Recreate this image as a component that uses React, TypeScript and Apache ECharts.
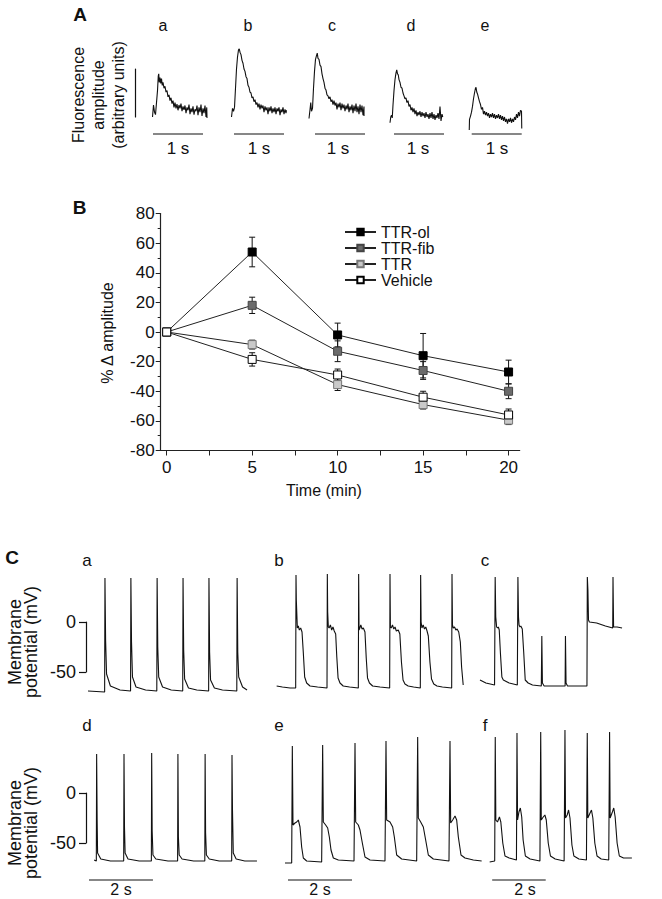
import React, { useEffect, useRef } from 'react';
import * as echarts from 'echarts';

const FONT = '"Liberation Sans", Arial, Helvetica, sans-serif';
const INK = '#111';

// ---------- Panel A : fluorescence transients (time s, amplitude a.u.) ----------
const traceLettersA = ['a', 'b', 'c', 'd', 'e'];
const fluoA: number[][] = [[0.01,0.0],[0.03,0.25],[0.05,0.1],[0.07,0.05],[0.09,0.3],[0.11,0.55],[0.125,0.85],[0.135,0.9],[0.145,0.72],[0.16,0.82],[0.175,0.7],[0.19,0.8],[0.205,0.66],[0.22,0.72],[0.24,0.6],[0.26,0.64],[0.28,0.52],[0.3,0.55],[0.32,0.42],[0.34,0.46],[0.36,0.34],[0.38,0.4],[0.4,0.28],[0.42,0.34],[0.44,0.2],[0.46,0.3],[0.48,0.18],[0.5,0.27],[0.52,0.14],[0.54,0.25],[0.56,0.18],[0.58,0.28],[0.6,0.12],[0.62,0.22],[0.64,0.15],[0.66,0.24],[0.68,0.08],[0.7,0.2],[0.72,0.14],[0.74,0.26],[0.76,0.06],[0.78,0.18],[0.8,0.1],[0.82,0.22],[0.84,0.05],[0.86,0.16],[0.88,0.12],[0.9,0.24],[0.92,0.04],[0.94,0.2],[0.96,0.1],[0.98,0.26],[1.0,0.02],[1.02,0.18],[1.04,0.08],[1.06,0.24],[1.08,0.0],[1.095,0.2],[1.1,-0.02]];
const fluoB: number[][] = [[0.01,0.0],[0.03,0.18],[0.05,0.12],[0.07,0.2],[0.09,0.6],[0.11,1.0],[0.13,1.25],[0.15,1.4],[0.165,1.42],[0.18,1.35],[0.2,1.3],[0.22,1.18],[0.24,1.12],[0.26,1.0],[0.28,0.95],[0.3,0.84],[0.32,0.8],[0.34,0.66],[0.36,0.62],[0.38,0.52],[0.4,0.5],[0.42,0.4],[0.44,0.42],[0.46,0.32],[0.48,0.36],[0.5,0.26],[0.52,0.3],[0.54,0.2],[0.56,0.28],[0.58,0.16],[0.6,0.26],[0.62,0.18],[0.64,0.24],[0.66,0.1],[0.68,0.22],[0.7,0.14],[0.72,0.2],[0.74,0.06],[0.76,0.2],[0.78,0.12],[0.8,0.22],[0.82,0.08],[0.84,0.18],[0.86,0.1],[0.88,0.2],[0.9,0.06],[0.92,0.18],[0.94,0.12],[0.96,0.2],[0.98,0.04],[1.0,0.16],[1.02,0.1],[1.04,0.2],[1.06,0.06],[1.08,0.16],[1.1,0.08],[1.11,0.14]];
const fluoC: number[][] = [[0.02,-0.03],[0.04,0.15],[0.055,0.3],[0.07,0.12],[0.09,0.18],[0.11,0.6],[0.13,0.95],[0.15,1.2],[0.17,1.28],[0.185,1.33],[0.2,1.22],[0.22,1.2],[0.24,1.08],[0.26,1.05],[0.28,0.9],[0.3,0.8],[0.32,0.72],[0.34,0.6],[0.36,0.56],[0.38,0.46],[0.4,0.44],[0.42,0.38],[0.44,0.42],[0.46,0.32],[0.48,0.36],[0.5,0.26],[0.52,0.34],[0.54,0.24],[0.56,0.3],[0.58,0.16],[0.6,0.28],[0.62,0.2],[0.64,0.3],[0.66,0.14],[0.68,0.28],[0.7,0.18],[0.72,0.26],[0.74,0.12],[0.76,0.24],[0.78,0.16],[0.8,0.28],[0.82,0.1],[0.84,0.22],[0.86,0.14],[0.88,0.26],[0.9,0.08],[0.92,0.24],[0.94,0.12],[0.96,0.28],[0.98,0.1],[1.0,0.22],[1.02,0.06],[1.04,0.26],[1.06,0.1],[1.08,0.24],[1.1,0.04],[1.12,0.22],[1.12,0.02]];
const fluoD: number[][] = [[0.02,-0.12],[0.035,0.0],[0.05,0.04],[0.065,-0.02],[0.08,0.25],[0.1,0.55],[0.12,0.78],[0.14,0.92],[0.155,0.98],[0.17,0.9],[0.185,0.88],[0.2,0.78],[0.22,0.72],[0.24,0.62],[0.26,0.6],[0.28,0.5],[0.3,0.44],[0.32,0.38],[0.34,0.4],[0.36,0.3],[0.38,0.34],[0.4,0.22],[0.42,0.26],[0.44,0.14],[0.46,0.2],[0.48,0.1],[0.5,0.18],[0.52,0.06],[0.54,0.14],[0.56,0.02],[0.58,0.1],[0.6,0.04],[0.62,0.12],[0.64,0.0],[0.66,0.1],[0.68,0.02],[0.7,0.08],[0.72,-0.02],[0.74,0.1],[0.76,0.0],[0.78,0.06],[0.8,-0.04],[0.82,0.08],[0.84,-0.02],[0.86,0.1],[0.88,-0.04],[0.9,0.06],[0.92,-0.06],[0.94,0.04],[0.96,-0.02],[0.98,0.08],[1.0,-0.04],[1.02,0.22],[1.04,-0.08],[1.06,0.06],[1.075,0.0]];
const fluoE: number[][] = [[0.025,-0.27],[0.03,-0.05],[0.05,0.02],[0.07,0.1],[0.09,0.22],[0.11,0.38],[0.13,0.5],[0.15,0.6],[0.16,0.62],[0.175,0.52],[0.19,0.48],[0.21,0.4],[0.23,0.32],[0.25,0.26],[0.27,0.16],[0.29,0.2],[0.31,0.06],[0.33,0.12],[0.35,0.04],[0.37,0.1],[0.39,0.02],[0.41,0.08],[0.43,-0.02],[0.45,0.06],[0.47,0.0],[0.49,0.08],[0.51,-0.02],[0.53,0.06],[0.55,-0.04],[0.57,0.04],[0.59,-0.02],[0.61,0.06],[0.63,-0.04],[0.65,0.04],[0.67,-0.06],[0.69,0.02],[0.71,-0.08],[0.73,0.0],[0.75,-0.1],[0.77,-0.04],[0.79,-0.14],[0.81,-0.04],[0.83,-0.1],[0.85,-0.02],[0.87,-0.12],[0.89,-0.04],[0.91,-0.1],[0.93,0.0],[0.95,-0.06],[0.97,0.06],[0.99,-0.02],[1.01,0.1],[1.03,0.02],[1.05,0.14],[1.07,0.12],[1.075,-0.24]];
const fluoTraces = [fluoA, fluoB, fluoC, fluoD, fluoE];
const oneSecondBarA = [[0.02, 1.02], [0.06, 1.06], [0.14, 1.14], [0.1, 1.1], [0.074, 1.074]];

// ---------- Panel B : % change of amplitude ----------
const timesMin = [0, 5, 10, 15, 20];
const ttrOl = [0, 54, -2, -16, -27];
const ttrOlErr = [0, 10, 8, 15, 8];
const ttrFib = [0, 18, -13, -26, -40];
const ttrFibErr = [0, 5.5, 7, 6, 5];
const ttrNat = [0, -8.5, -35.5, -49, -59.5];
const ttrNatErr = [0, 3, 4, 3, 3];
const vehicle = [0, -18.5, -29, -44, -56];
const vehicleErr = [0, 4.5, 4, 4, 4];
const seriesNamesB = ['TTR-ol', 'TTR-fib', 'TTR', 'Vehicle'];
const xLabelsB = [0, 5, 10, 15, 20];
const xTicksB = [0, 2.5, 5, 7.5, 10, 12.5, 15, 17.5, 20];

// ---------- Panel C : membrane potential (time s, mV) ----------
const lettersC = ['a', 'b', 'c', 'd', 'e', 'f'];
const apA: number[][] = [[0,-69],[0.52,-70],[0.53,44],[0.55,-18],[0.58,-52],[0.7,-64],[1.0,-68],[1.33,-69],[1.34,44],[1.36,-20],[1.39,-55],[1.5,-65],[1.8,-68],[2.15,-69],[2.16,44],[2.18,-25],[2.21,-55],[2.33,-65],[2.6,-68],[2.96,-69],[2.97,44],[2.99,-28],[3.02,-57],[3.14,-66],[3.4,-68],[3.77,-69],[3.78,44],[3.8,-30],[3.83,-58],[3.95,-66],[4.2,-68],[4.65,-69],[4.66,44],[4.68,-30],[4.71,-55],[4.83,-65],[4.97,-68]];
const apB: number[][] = [[0.02,-64],[0.2,-65],[0.44,-66],[0.615,-66],[0.625,47],[0.635,22],[0.667,-6],[0.698,-4],[0.729,-8],[0.771,-6],[0.813,-10],[0.854,-31],[0.896,-55],[0.958,-61],[1.063,-64],[1.3,-65],[1.594,-66],[1.604,48],[1.615,10],[1.635,-5],[1.66,-6],[1.7,-3],[1.74,-8],[1.78,-5],[1.82,-9],[1.865,-12],[1.9,-35],[1.94,-56],[2.0,-61],[2.1,-64],[2.3,-65],[2.573,-66],[2.583,48],[2.595,-8],[2.62,-6],[2.65,-3],[2.69,-7],[2.73,-6],[2.78,-10],[2.82,-36],[2.86,-56],[2.92,-61],[3.02,-64],[3.25,-65],[3.552,-66],[3.5625,48],[3.575,-5],[3.6,-6],[3.64,-3],[3.68,-7],[3.72,-5],[3.76,-9],[3.82,-8],[3.87,-12],[3.92,-40],[3.97,-58],[4.03,-62],[4.13,-64],[4.3,-65],[4.51,-66],[4.52,47],[4.535,0],[4.56,-6],[4.6,-3],[4.64,-7],[4.68,-5],[4.72,-9],[4.76,-14],[4.81,-40],[4.86,-57],[4.93,-62],[5.03,-64],[5.2,-65],[5.49,-66],[5.5,48],[5.515,-3],[5.54,-6],[5.58,-5],[5.62,-8],[5.66,-7],[5.71,-10],[5.76,-20],[5.8,-45],[5.85,-63]];
const apC: number[][] = [[0,-58],[0.21,-61],[0.52,-63],[0.535,-63],[0.542,45],[0.5625,5],[0.594,-5],[0.625,-6],[0.656,-5],[0.6875,-8],[0.729,-31],[0.781,-55],[0.833,-58],[1.042,-61],[1.333,-63],[1.354,45],[1.375,5],[1.396,-3],[1.427,-5],[1.458,-4],[1.51,-7],[1.5625,-31],[1.615,-58],[1.719,-61],[1.875,-63],[2.19,-64],[2.208,-14],[2.229,-61],[2.29,-64],[2.708,-64],[3.04,-64],[3.052,-14],[3.073,-61],[3.125,-64],[3.82,-64],[3.833,45],[3.854,32],[3.875,2],[3.906,0],[4.167,-1],[4.479,-4],[4.74,-6],[4.75,45],[4.771,-5],[4.896,-5],[5.073,-6]];
const apD: number[][] = [[0.19,-67],[0.26,-68],[0.27,39],[0.285,-26],[0.3,-60],[0.4,-66],[0.7,-68],[1.115,-68],[1.125,39],[1.14,-34],[1.16,-60],[1.25,-66],[1.6,-68],[1.98,-68],[1.99,40],[2.005,-38],[2.03,-62],[2.12,-66],[2.5,-68],[2.8,-68],[2.81,39],[2.825,-44],[2.85,-62],[2.94,-66],[3.3,-68],[3.65,-68],[3.66,39],[3.675,-40],[3.7,-62],[3.79,-66],[4.1,-68],[4.49,-68],[4.5,38],[4.515,-17],[4.54,-60],[4.63,-66],[4.9,-68],[5.28,-68]];
const apE: number[][] = [[0.031,-70],[0.24,-70],[0.26,47],[0.281,-32],[0.344,-30],[0.396,-29],[0.448,-27],[0.5,-34],[0.552,-54],[0.604,-65],[0.708,-68],[1.177,-69],[1.208,48],[1.229,-29],[1.302,-32],[1.365,-35],[1.417,-44],[1.469,-57],[1.542,-65],[1.698,-67],[2.188,-68],[2.219,50],[2.24,-29],[2.323,-32],[2.375,-37],[2.448,-50],[2.531,-64],[2.688,-67],[3.156,-68],[3.1875,52],[3.208,-27],[3.3125,-29],[3.396,-34],[3.448,-44],[3.521,-62],[3.677,-66],[4.146,-68],[4.177,56],[4.198,-25],[4.271,-29],[4.354,-34],[4.427,-47],[4.51,-62],[4.667,-66],[5.156,-68],[5.1875,52],[5.208,-30],[5.271,-27],[5.344,-23],[5.396,-27],[5.448,-44],[5.531,-62],[5.656,-65],[5.917,-67],[6.177,-68]];
const apF: number[][] = [[0.0625,-69],[0.25,-68],[0.271,56],[0.292,-27],[0.354,-29],[0.427,-24],[0.479,-29],[0.552,-50],[0.635,-63],[0.792,-65],[1.063,-67],[1.083,60],[1.104,-27],[1.156,-19],[1.208,-15],[1.26,-24],[1.3125,-47],[1.396,-63],[1.573,-66],[1.94,-68],[1.969,61],[1.99,-27],[2.063,-24],[2.125,-22],[2.177,-27],[2.25,-50],[2.333,-63],[2.51,-66],[2.844,-68],[2.875,63],[2.896,-25],[2.958,-22],[3.01,-17],[3.0625,-25],[3.135,-52],[3.208,-63],[3.396,-66],[3.677,-67],[3.708,60],[3.729,-25],[3.8125,-20],[3.865,-17],[3.917,-25],[3.99,-50],[4.073,-63],[4.229,-66],[4.51,-67],[4.542,61],[4.5625,-25],[4.646,-19],[4.698,-15],[4.75,-24],[4.823,-50],[4.906,-63],[5.0625,-65],[5.375,-65]];
const apTraces = [apA, apB, apC, apD, apE, apF];
const twoSecondBarC = [[0.03, 2.03], [0.125, 2.125], [0.156, 2.156]];
const mVTicks = [0, -50];

// ---------- layout (pixels) ----------
const leftsA = [152, 231, 308, 389, 468];
const leftsC = [88, 276, 480, 88, 284, 488];
const topsC = [552, 552, 552, 723, 723, 723];
const letterXA = [163, 248, 332, 411, 485];
const secLabelXA = [178, 259, 338, 418, 497];
const letterXC = [87, 279, 485, 87, 279, 485];
const letterYC = [560, 560, 560, 725, 725, 725];
const secLabelXC = [121, 320, 525];

const App: React.FC = () => {
  const ref = useRef<HTMLDivElement>(null);

  useEffect(() => {
    if (!ref.current) return;
    const chart = echarts.init(ref.current, null, { renderer: 'svg' });

    const grid: any[] = [];
    const xAxis: any[] = [];
    const yAxis: any[] = [];
    const series: any[] = [];
    const graphic: any[] = [];

    const hiddenAxes = (xmin: number, xmax: number, ymin: number, ymax: number) => {
      xAxis.push({ type: 'value', gridIndex: grid.length - 1, min: xmin, max: xmax, show: false });
      yAxis.push({ type: 'value', gridIndex: grid.length - 1, min: ymin, max: ymax, show: false });
      return grid.length - 1;
    };
    const traceLine = (idx: number, data: number[][], width = 1.1) => {
      series.push({
        type: 'line', xAxisIndex: idx, yAxisIndex: idx, data, showSymbol: false, symbol: 'none',
        silent: true, clip: false, lineStyle: { color: INK, width }, z: 3,
      });
    };
    const txt = (x: number, y: number, text: string, size: number, extra: any = {}) => {
      graphic.push({
        type: 'text', x, y, rotation: extra.rotation || 0, silent: true,
        style: {
          text, fontSize: size, fontFamily: FONT, fontWeight: extra.bold ? 'bold' : 'normal',
          fill: INK, align: 'center', verticalAlign: 'middle', textAlign: 'center', textVerticalAlign: 'middle',
          lineHeight: extra.lineHeight,
        },
      });
    };

    // ---- Panel A ----
    fluoTraces.forEach((tr, i) => {
      grid.push({ left: leftsA[i], top: 40.2, width: 60, height: 96 });
      const g = hiddenAxes(0, 1.2, -0.4, 1.6);
      traceLine(g, tr, 1.1);
      traceLine(g, [[oneSecondBarA[i][0], -0.354], [oneSecondBarA[i][1], -0.354]], 1.2);
      txt(letterXA[i], 25, traceLettersA[i], 16);
      txt(secLabelXA[i], 148, '1 s', 17);
    });
    // vertical amplitude scale bar (1 a.u.)
    grid.push({ left: 135, top: 69, width: 1, height: 48 });
    xAxis.push({ type: 'value', gridIndex: grid.length - 1, show: false });
    yAxis.push({
      type: 'value', gridIndex: grid.length - 1, min: 0, max: 1, position: 'left',
      axisLine: { show: true, lineStyle: { color: INK, width: 1.2 } },
      axisTick: { show: false }, axisLabel: { show: false }, splitLine: { show: false },
    });
    txt(80, 14, 'A', 19, { bold: true });
    txt(98, 95, 'Fluorescence\namplitude\n(arbitrary units)', 16, { rotation: Math.PI / 2, lineHeight: 20 });

    // ---- Panel B ----
    grid.push({ left: 160.7, top: 213.5, width: 359, height: 237 });
    const gB = grid.length - 1;
    xAxis.push({
      type: 'value', gridIndex: gB, min: -0.35, max: 20.65,
      axisLine: { show: true, onZero: false, lineStyle: { color: '#222', width: 1.2 } },
      axisTick: { show: true, customValues: xTicksB, length: 5, lineStyle: { color: '#222' } },
      axisLabel: { customValues: xLabelsB, fontSize: 17, fontFamily: FONT, color: INK, margin: 8 },
      splitLine: { show: false },
    });
    yAxis.push({
      type: 'value', gridIndex: gB, min: -80, max: 80, interval: 20,
      axisLine: { show: true, onZero: false, lineStyle: { color: '#222', width: 1.2 } },
      axisTick: { show: true, length: 5, lineStyle: { color: '#222' } },
      minorTick: { show: true, splitNumber: 2, length: 3, lineStyle: { color: '#222' } },
      axisLabel: { fontSize: 17, fontFamily: FONT, color: INK, margin: 6 },
      splitLine: { show: false },
    });
    const bSets = [
      { name: seriesNamesB[0], v: ttrOl, e: ttrOlErr, fill: '#000000', border: '#000000' },
      { name: seriesNamesB[1], v: ttrFib, e: ttrFibErr, fill: '#6b6b6b', border: '#444444' },
      { name: seriesNamesB[2], v: ttrNat, e: ttrNatErr, fill: '#c9c9c9', border: '#777777' },
      { name: seriesNamesB[3], v: vehicle, e: vehicleErr, fill: '#ffffff', border: '#000000' },
    ];
    bSets.forEach((s) => {
      series.push({
        type: 'custom', name: s.name + ' error', xAxisIndex: gB, yAxisIndex: gB, silent: true, z: 2,
        data: timesMin.map((t, i) => [t, s.v[i], s.e[i]]),
        renderItem: (_p: any, api: any) => {
          const x = api.value(0), m = api.value(1), e = api.value(2);
          if (!e) return { type: 'group', children: [] };
          const top = api.coord([x, m + e]);
          const bot = api.coord([x, m - e]);
          const st = { stroke: '#111', lineWidth: 1 };
          return {
            type: 'group', children: [
              { type: 'line', shape: { x1: top[0], y1: top[1], x2: bot[0], y2: bot[1] }, style: st },
              { type: 'line', shape: { x1: top[0] - 3, y1: top[1], x2: top[0] + 3, y2: top[1] }, style: st },
              { type: 'line', shape: { x1: bot[0] - 3, y1: bot[1], x2: bot[0] + 3, y2: bot[1] }, style: st },
            ],
          };
        },
      });
    });
    bSets.forEach((s) => {
      series.push({
        type: 'line', name: s.name, xAxisIndex: gB, yAxisIndex: gB, z: 3,
        data: timesMin.map((t, i) => [t, s.v[i]]),
        symbol: 'rect', symbolSize: 8, showSymbol: true,
        lineStyle: { color: '#222', width: 1 },
        itemStyle: { color: s.fill, borderColor: s.border, borderWidth: 1 },
      });
    });
    txt(79.5, 207.5, 'B', 19, { bold: true });
    txt(107, 333, '% Δ amplitude', 16, { rotation: Math.PI / 2 });
    txt(324, 490, 'Time (min)', 16);

    // ---- Panel C ----
    apTraces.forEach((tr, i) => {
      grid.push({ left: leftsC[i], top: topsC[i], width: 208, height: 170 });
      const g = hiddenAxes(0, 6.5, -100, 70);
      traceLine(g, tr, 1.1);
      if (i >= 3) {
        const b = twoSecondBarC[i - 3];
        traceLine(g, [[b[0], -87], [b[1], -87]], 1.2);
        txt(secLabelXC[i - 3], 889, '2 s', 16);
      }
      txt(letterXC[i], letterYC[i], lettersC[i], 17);
    });
    // mV scale bars with 0 / -50 labels
    [622, 793].forEach((zeroY) => {
      grid.push({ left: 86, top: zeroY, width: 1, height: 50 });
      xAxis.push({ type: 'value', gridIndex: grid.length - 1, show: false });
      yAxis.push({
        type: 'value', gridIndex: grid.length - 1, min: -50, max: 0, interval: 50, position: 'left',
        axisLine: { show: true, lineStyle: { color: INK, width: 1.2 } },
        axisTick: { show: true, customValues: mVTicks, length: 7, lineStyle: { color: INK, width: 1.2 } },
        axisLabel: { customValues: mVTicks, fontSize: 18, fontFamily: FONT, color: INK, margin: 10 },
        splitLine: { show: false },
      });
    });
    txt(12, 557, 'C', 19, { bold: true });
    txt(23, 642, 'Membrane\npotential (mV)', 18, { rotation: Math.PI / 2, lineHeight: 16 });
    txt(23, 823, 'Membrane\npotential (mV)', 18, { rotation: Math.PI / 2, lineHeight: 16 });

    chart.setOption({
      animation: false,
      backgroundColor: '#ffffff',
      textStyle: { fontFamily: FONT },
      grid, xAxis, yAxis, series, graphic,
      legend: {
        data: seriesNamesB, orient: 'vertical', left: 339, top: 219,
        itemWidth: 31, itemHeight: 8, itemGap: 0, selectedMode: false,
        textStyle: { fontSize: 16, fontFamily: FONT, color: INK, lineHeight: 15.5 },
      },
    });
    return () => chart.dispose();
  }, []);

  return <div ref={ref} style={{ position: 'fixed', left: 0, top: 0, width: 662, height: 899 }} />;
};

export default App;
